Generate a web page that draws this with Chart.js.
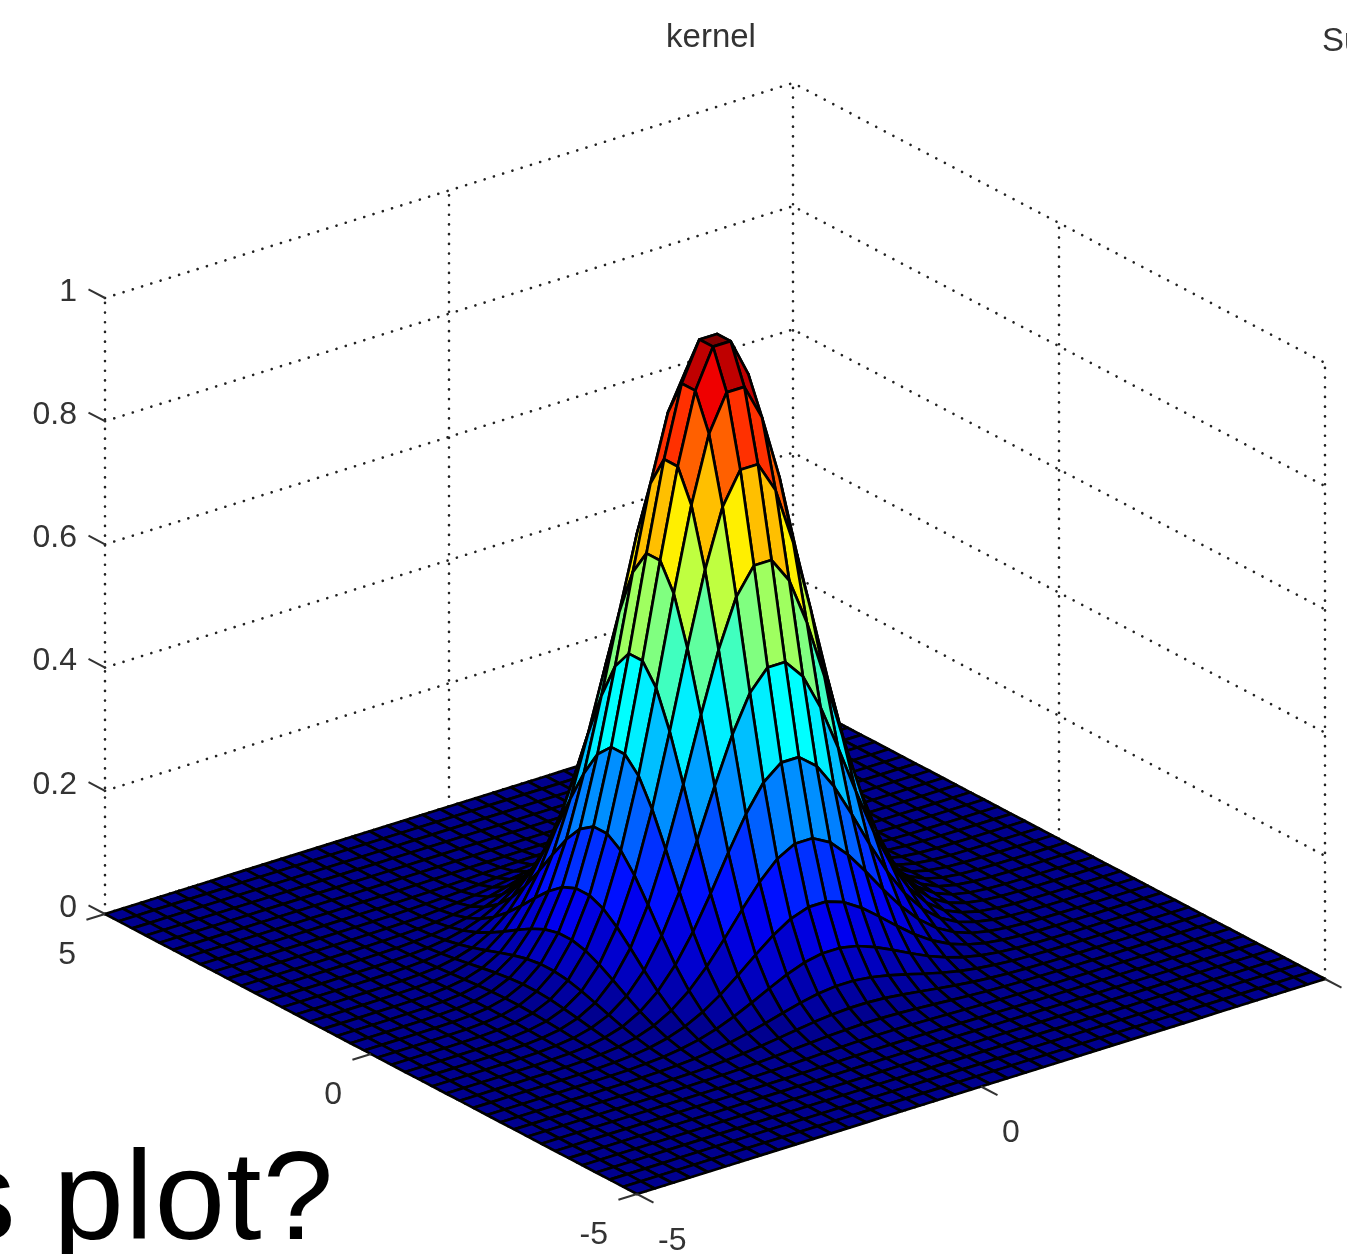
<!DOCTYPE html>
<html>
<head>
<meta charset="utf-8">
<title>kernel</title>
<script src="https://cdn.jsdelivr.net/npm/chart.js@4/dist/chart.umd.min.js"></script>
<style>
    html, body { margin: 0; padding: 0; background: #fff; overflow: hidden; }
    #wrap { position: relative; width: 1347px; height: 1254px; overflow: hidden; }
    #kernelChart { position: absolute; left: 0; top: 0; filter: blur(0.6px); }
    #slideText { position: absolute; left: -48px; top: 1115px; font: 127px/160px "Liberation Sans", sans-serif; letter-spacing: 1.2px; color: #000; white-space: pre; }
</style>
</head>
<body>
<div id="wrap">
    <canvas id="kernelChart" width="1347" height="1254"></canvas>
    <div id="slideText">s plot?</div>
</div>
<script>
// grid positions (one side, the other side mirrors) and the height read along one grid row
const gridHalf = [0.128, 0.385, 0.641, 0.897, 1.154, 1.41, 1.667, 1.923, 2.179, 2.436, 2.692, 2.949, 3.205, 3.462, 3.718, 3.974, 4.231, 4.487, 4.744, 5];
const rowHeight = [0.992, 0.929, 0.814, 0.669, 0.514, 0.37, 0.249, 0.157, 0.093, 0.051, 0.027, 0.013, 0.006, 0.0025, 0.001, 0.0004, 0.0001, 0, 0, 0];

const xTicks = [-5, 0, 5];
const yTicks = [-5, 0, 5];
const zTicks = [0, 0.2, 0.4, 0.6, 0.8, 1];
const zTickLabels = ['0', '0.2', '0.4', '0.6', '0.8', '1'];
const titleText = 'kernel';
const nextTitleText = 'Su';

// view of the 3d box on the flat plot
const CENTER = [715, 946.5];
const EX = [68.8, -21.5];
const EY = [-53.2, -28];
const EZ = 616;

const gridAxis = gridHalf.slice().reverse().map(v => -v).concat(gridHalf);
const profile = rowHeight.slice().reverse().concat(rowHeight);

function project(x, y, z) {
    return {
        x: CENTER[0] + x * EX[0] + y * EY[0],
        y: CENTER[1] + x * EX[1] + y * EY[1] - z * EZ
    };
}

// same steps as the 64 colour jet map
function jet(v) {
    const k = Math.min(64, Math.max(1, Math.floor(v * 64) + 1));
    const c = t => Math.round(255 * Math.max(0, Math.min(1, t)));
    const r = c(Math.min((k - 24) / 16, (72 - k) / 16));
    const g = c(Math.min((k - 8) / 16, (56 - k) / 16));
    const b = c(Math.min((k + 8) / 16, (40 - k) / 16));
    return `rgb(${r},${g},${b})`;
}

function dotted(points) {
    return {
        data: points, showLine: true, pointRadius: 0, fill: false,
        borderColor: '#222', borderWidth: 2.6, borderDash: [0.1, 9.6], borderCapStyle: 'round'
    };
}

function tick(a, b) {
    return { data: [a, b], showLine: true, pointRadius: 0, fill: false, borderColor: '#333', borderWidth: 2 };
}

// listed back to front, reversed at the end because chart.js paints the first dataset last
const drawn = [];

// walls and floor
zTicks.forEach(z => {
    drawn.push(dotted([project(-5, 5, z), project(5, 5, z), project(5, -5, z)]));
});
yTicks.forEach(y => {
    drawn.push(dotted([project(5, y, 0), project(5, y, 1)]));
    drawn.push(dotted([project(-5, y, 0), project(5, y, 0)]));
});
xTicks.forEach(x => {
    if (x < 5) drawn.push(dotted([project(x, 5, 0), project(x, 5, 1)]));
    drawn.push(dotted([project(x, -5, 0), project(x, 5, 0)]));
});

// surface, far corner first
const peak = profile[19] * profile[19];
for (let i = gridAxis.length - 2; i >= 0; i--) {
    for (let j = gridAxis.length - 2; j >= 0; j--) {
        const x0 = gridAxis[i], x1 = gridAxis[i + 1];
        const y0 = gridAxis[j], y1 = gridAxis[j + 1];
        const h = (a, b) => profile[a] * profile[b];
        drawn.push({
            data: [
                project(x0, y0, h(i, j)),
                project(x1, y0, h(i + 1, j)),
                project(x1, y1, h(i + 1, j + 1)),
                project(x0, y1, h(i, j + 1)),
                project(x0, y0, h(i, j))
            ],
            showLine: true, pointRadius: 0, fill: 'shape',
            backgroundColor: jet(h(i, j) / peak),
            borderColor: '#000', borderWidth: 2.7, borderJoinStyle: 'round'
        });
    }
}

// tick marks
zTicks.forEach(z => drawn.push(tick(project(-5, 5, z), project(-5, 5.31, z))));
yTicks.forEach(y => drawn.push(tick(project(-5, y, 0), project(-5.27, y, 0))));
xTicks.forEach(x => drawn.push(tick(project(x, -5, 0), project(x, -5.31, 0))));

const tickText = {
    id: 'tickText',
    afterDraw(chart) {
        const { ctx, scales } = chart;
        const px = p => [scales.x.getPixelForValue(p.x), scales.y.getPixelForValue(p.y)];
        ctx.save();
        ctx.fillStyle = '#333';
        ctx.font = '32px "Liberation Sans", sans-serif';
        ctx.textBaseline = 'middle';

        ctx.textAlign = 'right';
        zTicks.forEach((z, n) => {
            const [a, b] = px(project(-5, 5, z));
            ctx.fillText(zTickLabels[n], a - 28, b - 6);
        });
        yTicks.forEach(y => {
            const [a, b] = px(project(-5, y, 0));
            ctx.fillText(String(y), a - 29, b + 41);
        });

        ctx.textAlign = 'left';
        xTicks.forEach(x => {
            const [a, b] = px(project(x, -5, 0));
            ctx.fillText(String(x), a + 21, b + 47);
        });

        ctx.textAlign = 'center';
        ctx.font = '33px "Liberation Sans", sans-serif';
        ctx.fillText(titleText, 711, 38);
        ctx.textAlign = 'left';
        ctx.fillText(nextTitleText, 1322, 42);
        ctx.restore();
    }
};

new Chart(document.getElementById('kernelChart'), {
    type: 'scatter',
    data: { datasets: drawn.reverse() },
    options: {
        responsive: false,
        animation: false,
        events: [],
        layout: { padding: 0 },
        plugins: { legend: { display: false }, tooltip: { enabled: false }, title: { display: false } },
        scales: {
            x: { type: 'linear', min: 0, max: 1347, display: false },
            y: { type: 'linear', min: 0, max: 1254, reverse: true, display: false }
        }
    },
    plugins: [tickText]
});
</script>
</body>
</html>
